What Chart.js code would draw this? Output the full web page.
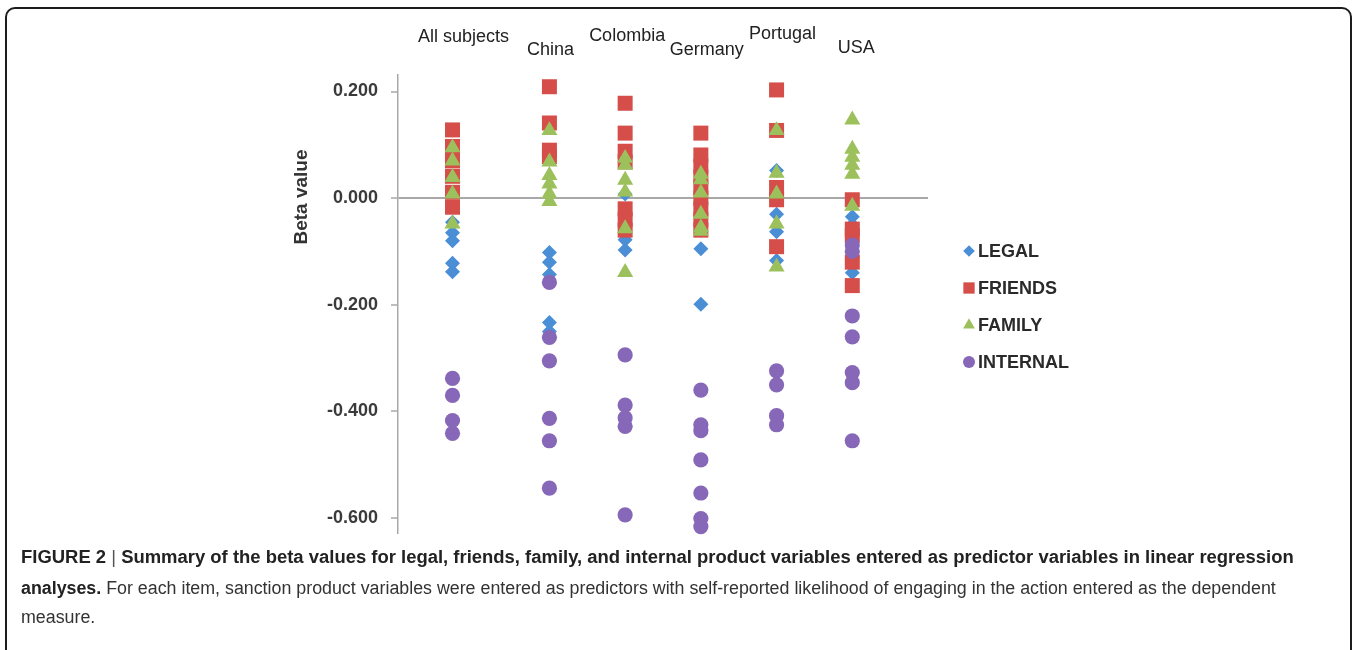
<!DOCTYPE html>
<html>
<head>
<meta charset="utf-8">
<title>Beta values by country</title>
<script src="https://cdn.jsdelivr.net/npm/chart.js@4.4.1/dist/chart.umd.min.js"></script>
<style>
  html, body { margin: 0; padding: 0; background: #fff; width: 1357px; height: 650px; overflow: hidden; }
  #wrap { position: absolute; left: 0; top: 0; width: 1357px; height: 650px; }
  #c { position: absolute; left: 0; top: 0; }
  #frame { position: absolute; left: 5px; top: 7px; width: 1343px; height: 690px;
           border: 2px solid #1c1c1c; border-radius: 10px; pointer-events: none; }
  .cap { position: absolute; left: 21px; white-space: nowrap; font-family: "Liberation Sans", Arial, sans-serif;
         font-size: 18px; line-height: 20px; color: #333; transform-origin: 0 50%; }
  .cap b { font-weight: bold; color: #222; }
  .cap .bar { font-weight: normal; color: #555; }
</style>
</head>
<body>
<div id="wrap">
  <canvas id="c" width="1357" height="650"></canvas>
  <div id="frame"></div>
  <div class="cap" id="cap1" style="top:547px"><b>FIGURE 2 <span class="bar">|</span> Summary of the beta values for legal, friends, family, and internal product variables entered as predictor variables in linear regression</b></div>
  <div class="cap" id="cap2" style="top:578px"><b>analyses.</b> For each item, sanction product variables were entered as predictors with self-reported likelihood of engaging in the action entered as the dependent</div>
  <div class="cap" id="cap3" style="top:607px">measure.</div>
</div>
<script>
// Groups along the horizontal axis and their numeric position on it
const groups = ['All subjects', 'China', 'Colombia', 'Germany', 'Portugal', 'USA'];
const groupX = [0.72, 2, 3, 4, 5, 6];

// Y axis tick values
const yTicks = [0.2, 0, -0.2, -0.4, -0.6];

// Beta values, one list per group (same order as `groups`)
const legal = [
  [-0.045, -0.065, -0.080, -0.122, -0.138],
  [-0.102, -0.120, -0.143, -0.233, -0.250],
  [0.008, -0.078, -0.097],
  [-0.060, -0.095, -0.199],
  [0.052, -0.030, -0.063, -0.117],
  [-0.035, -0.050, -0.110, -0.140]
];
const friends = [
  [0.128, 0.097, 0.070, 0.041, 0.011, -0.017],
  [0.209, 0.141, 0.090, 0.078],
  [0.178, 0.122, 0.088, 0.068, -0.020, -0.040, -0.060],
  [0.122, 0.081, 0.060, 0.040, 0.020, 0.000, -0.020, -0.040, -0.060],
  [0.203, 0.127, 0.020, -0.003, -0.091],
  [-0.003, -0.058, -0.070, -0.120, -0.164]
];
const family = [
  [0.095, 0.070, 0.039, 0.008, -0.048],
  [0.127, 0.068, 0.043, 0.027, 0.008, -0.006],
  [0.075, 0.062, 0.034, 0.012, -0.057, -0.139],
  [0.045, 0.035, 0.010, -0.030, -0.055, -0.062],
  [0.127, 0.047, 0.008, -0.048, -0.129],
  [0.147, 0.092, 0.077, 0.062, 0.045, -0.015]
];
const internal = [
  [-0.338, -0.370, -0.417, -0.441],
  [-0.158, -0.261, -0.305, -0.413, -0.455, -0.544],
  [-0.294, -0.388, -0.412, -0.428, -0.594],
  [-0.360, -0.425, -0.436, -0.491, -0.553, -0.601, -0.616],
  [-0.324, -0.350, -0.408, -0.425],
  [-0.088, -0.100, -0.221, -0.260, -0.327, -0.346, -0.455]
];

const FONT = '"Liberation Sans", Arial, sans-serif';

function toPoints(perGroup) {
  const pts = [];
  perGroup.forEach((vals, i) => vals.forEach(v => pts.push({ x: groupX[i], y: v })));
  return pts;
}

const seriesDefs = [
  { label: 'LEGAL',    values: legal,    color: '#4a8ed6', style: 'rectRot',  r: 7.5,  lr: 5.8, order: 3 },
  { label: 'FRIENDS',  values: friends,  color: '#d54e4a', style: 'rect',     r: 10.6, lr: 8.0, order: 2 },
  { label: 'FAMILY',   values: family,   color: '#9cc15c', style: 'triangle', r: 9.3,  lr: 6.8, order: 1 },
  { label: 'INTERNAL', values: internal, color: '#8767b8', style: 'circle',   r: 7.6,  lr: 6.0, order: 0 }
];

// Group names written above the plot, staggered in height
const groupLabelsPlugin = {
  id: 'groupLabels',
  afterDraw(chart) {
    const { ctx, scales: { x } } = chart;
    const dx = [11, 1, 2, 6, 6, 4];
    const yPos = [37, 50, 36, 50, 34, 48];
    ctx.save();
    ctx.font = '18px ' + FONT;
    ctx.fillStyle = '#222';
    ctx.textAlign = 'center';
    ctx.textBaseline = 'middle';
    groups.forEach((g, i) => ctx.fillText(g, x.getPixelForValue(groupX[i]) + dx[i], yPos[i]));
    ctx.restore();
  }
};

// Y axis title placed level with the zero line
const axisTitlePlugin = {
  id: 'axisTitle',
  afterDraw(chart) {
    const { ctx } = chart;
    ctx.save();
    ctx.translate(302, 197);
    ctx.rotate(-Math.PI / 2);
    ctx.font = 'bold 19px ' + FONT;
    ctx.fillStyle = '#333';
    ctx.textAlign = 'center';
    ctx.textBaseline = 'middle';
    ctx.fillText('Beta value', 0, 0);
    ctx.restore();
  }
};

// Vertical legend to the right of the plot
const sideLegendPlugin = {
  id: 'sideLegend',
  afterDraw(chart) {
    const { ctx } = chart;
    const x0 = 969, y0 = 251, step = 37;
    ctx.save();
    ctx.font = 'bold 18px ' + FONT;
    ctx.textBaseline = 'middle';
    ctx.textAlign = 'left';
    chart.data.datasets.forEach((ds, i) => {
      const y = y0 + i * step;
      ctx.fillStyle = ds.backgroundColor;
      ctx.strokeStyle = ds.backgroundColor;
      Chart.helpers.drawPoint(ctx, { pointStyle: ds.pointStyle, radius: ds.legendRadius, rotation: 0, borderWidth: 0 }, x0, y);
      ctx.fillStyle = '#2a2a2a';
      ctx.fillText(ds.label, 978, y + 1);
    });
    ctx.restore();
  }
};

const datasets = seriesDefs.map(s => ({
  label: s.label,
  data: toPoints(s.values),
  pointStyle: s.style,
  pointRadius: s.r,
  pointHoverRadius: s.r,
  backgroundColor: s.color,
  borderColor: s.color,
  borderWidth: 0,
  legendRadius: s.lr,
  order: s.order,
  clip: false
}));

new Chart(document.getElementById('c'), {
  type: 'scatter',
  data: { datasets },
  options: {
    responsive: false,
    animation: false,
    events: [],
    layout: { padding: { left: 300, right: 429, top: 75, bottom: 117 } },
    plugins: { legend: { display: false }, tooltip: { enabled: false } },
    scales: {
      x: { type: 'linear', min: 0, max: 7, display: false },
      y: {
        type: 'linear',
        min: -0.628,
        max: 0.231,
        afterBuildTicks(axis) { axis.ticks = yTicks.map(v => ({ value: v })); },
        afterFit(axis) { axis.width = 98; },
        ticks: {
          padding: 13,
          color: '#3a3a3a',
          font: { family: FONT, size: 18, weight: 'bold' },
          callback: v => Number(v).toFixed(3)
        },
        grid: {
          color: c => (c.tick && c.tick.value === 0 ? '#a8a8a8' : 'rgba(0,0,0,0)'),
          lineWidth: 2,
          tickColor: '#a8a8a8',
          tickLength: 7,
          tickWidth: 1.5
        },
        border: { display: true, color: '#a8a8a8', width: 1.5 }
      }
    }
  },
  plugins: [groupLabelsPlugin, axisTitlePlugin, sideLegendPlugin]
});

// Fit caption lines to the frame width
function fitCaption() {
  const c1 = document.getElementById('cap1');
  const c2 = document.getElementById('cap2');
  const c3 = document.getElementById('cap3');
  const s1 = 1273 / c1.offsetWidth;
  const s2 = 1255 / c2.offsetWidth;
  c1.style.transform = 'scaleX(' + s1 + ')';
  c2.style.transform = 'scaleX(' + s2 + ')';
  c3.style.transform = 'scaleX(' + s2 + ')';
}
if (document.fonts && document.fonts.ready) document.fonts.ready.then(fitCaption); else fitCaption();
fitCaption();
</script>
</body>
</html>
